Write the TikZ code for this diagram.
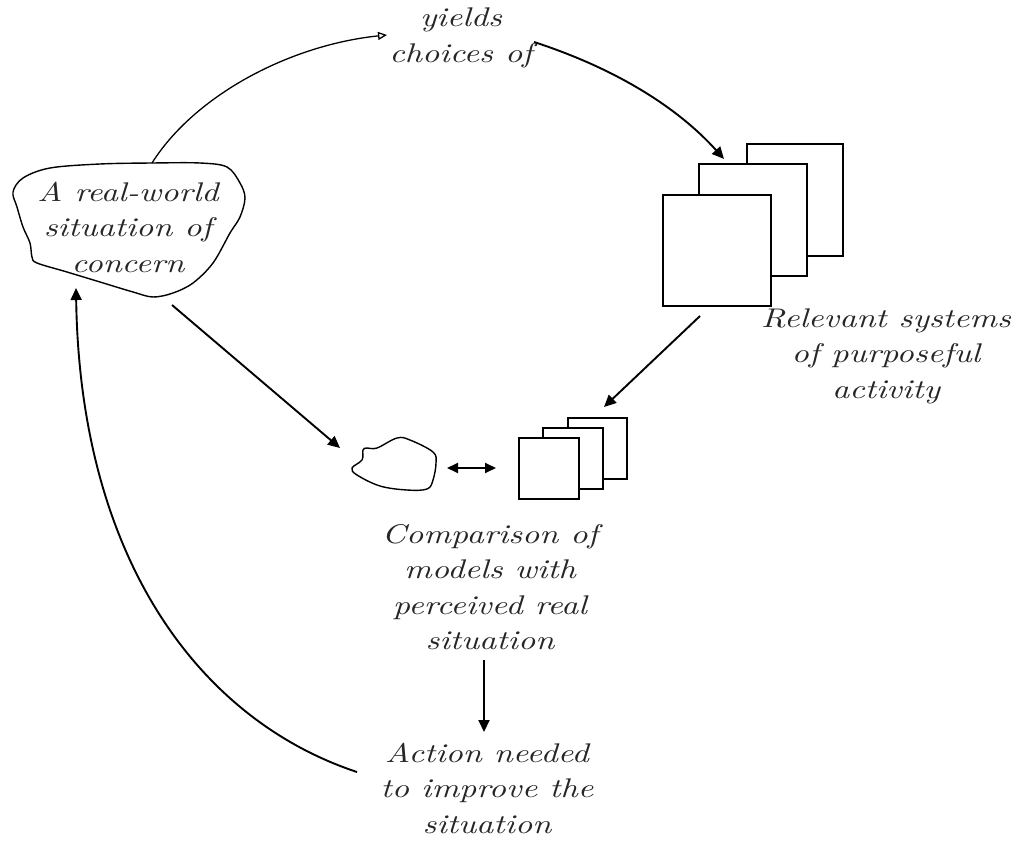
\documentclass[tikz,border=0pt]{standalone}
\usepackage{fontspec}
\newfontfamily\hand{lmroman10-italic.otf}[FakeStretch=1.25]
\usetikzlibrary{arrows.meta}
\tikzset{
  lbl/.style={font=\hand\fontsize{27}{35.5}\selectfont, align=center, inner sep=0pt, text=black!85},
  arr/.style={line width=1.9pt, -{Triangle[length=12pt,width=11pt]}},
  dbl/.style={line width=1.9pt, {Triangle[length=11pt,width=10pt]}-{Triangle[length=11pt,width=10pt]}},
  openarr/.style={line width=1.3pt, -{Triangle[open,length=9pt,width=8pt]}},
  sq/.style={draw, line width=1.3pt, fill=white, inner sep=0pt},
  blob/.style={draw, line width=1.4pt}
}
\begin{document}
\begin{tikzpicture}[x=1pt,y=-1pt]
\useasboundingbox (0,0) rectangle (1024,840);

% big blob
\draw[blob] plot[smooth cycle, tension=0.55] coordinates {(13,192) (23,178) (50,168) (100,164) (152,163) (200,163) (227,167) (240,183) (245,198) (240,217) (230,233) (213,263) (193,283) (173,293) (153,297) (133,292) (100,282) (67,272) (37,263) (32,257) (30,243) (23,227) (17,207)};
\node[lbl] (real) at (128,227) {A real-world\\situation of\\concern};

% small blob
\draw[blob] plot[smooth cycle, tension=0.6] coordinates {(352,468) (362,460) (363,450) (367,448) (377,448) (397,438) (410,440) (433,452) (436,463) (433,480) (427,489) (407,490) (380,486) (357,475)};

% big stack
\node[sq, minimum width=96pt, minimum height=112pt] (rsA) at (795,200) {};
\node[sq, minimum width=108pt, minimum height=112pt] (rsB) at (753,220) {};
\node[sq, minimum width=108pt, minimum height=111pt] (rsC) at (717,250.5) {};

% small stack
\node[sq, minimum width=59pt, minimum height=61pt] (smA) at (597.5,448.5) {};
\node[sq, minimum width=60pt, minimum height=61pt] (smB) at (573,458.5) {};
\node[sq, minimum width=60pt, minimum height=61pt] (smC) at (549,468.5) {};

% labels
\node[lbl] (yields) at (461,38) {yields\\choices of};
\node[lbl] (rel) at (886,356) {Relevant systems\\of purposeful\\activity};
\node[lbl] (comp) at (490,587) {Comparison of\\models with\\perceived real\\situation};
\node[lbl] (action) at (487,788) {Action needed\\to improve the\\situation};

% anchor coordinates
\coordinate (realtop) at (152,163);
\coordinate (realbot) at (172,305);
\coordinate (realin) at (76,288);
\coordinate (yieldsin) at (387,35);
\coordinate (yieldsout) at (534,42);
\coordinate (rsin) at (724,159);
\coordinate (rsout) at (700,316);
\coordinate (smin) at (604,407);
\coordinate (blobin) at (340,448);
\coordinate (dblL) at (447,468);
\coordinate (dblR) at (496,468);
\coordinate (compout) at (484,660);
\coordinate (actin) at (484,732);
\coordinate (actout) at (357,772);

% connectors
\draw[openarr] (realtop) .. controls (195,95) and (290,45) .. (yieldsin);
\draw[arr] (yieldsout) .. controls (620,70) and (680,110) .. (rsin);
\draw[arr] (rsout) -- (smin);
\draw[arr] (realbot) -- (blobin);
\draw[dbl] (dblL) -- (dblR);
\draw[arr] (compout) -- (actin);
\draw[arr] (actout) .. controls (200,720) and (80,560) .. (realin);
\end{tikzpicture}
\end{document}
